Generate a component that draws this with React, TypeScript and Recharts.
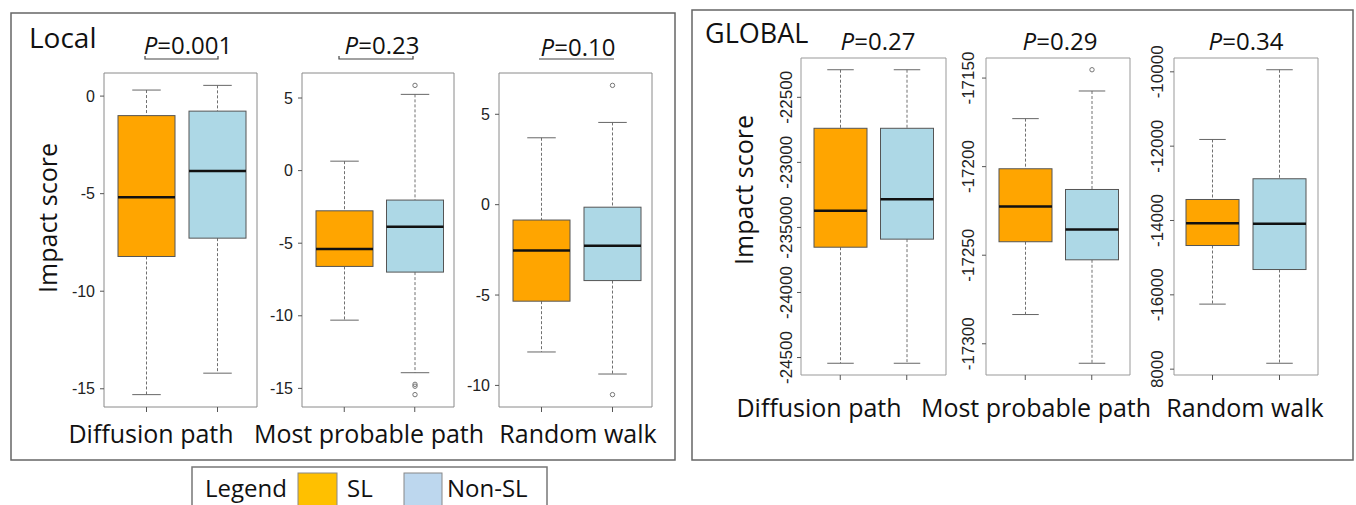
import React from 'react';
import { ComposedChart, Bar, XAxis, YAxis } from 'recharts';

const groups = ['SL', 'Non-SL'];
const boxFills = ['#FFA500', '#ADD8E6'];
const legendFills = ['#FFC000', '#BDD7EE'];

// each row: [min, q1, median, q3, max], first SL then Non-SL
const localDiffusion = [[-15.3, -8.22, -5.19, -1.0, 0.31], [-14.2, -7.28, -3.84, -0.77, 0.55]];
const localProbable = [[-10.3, -6.6, -5.4, -2.77, 0.65], [-13.92, -6.99, -3.87, -2.03, 5.25]];
const localWalk = [[-8.15, -5.34, -2.54, -0.85, 3.7], [-9.37, -4.2, -2.28, -0.14, 4.55]];
const globalDiffusion = [[-24544, -23652, -23371, -22738, -22288], [-24544, -23590, -23284, -22738, -22288]];
const globalProbable = [[-17283.5, -17242.4, -17222.5, -17201.2, -17172.9], [-17311, -17252.6, -17235.5, -17212.9, -17157.3]];
const globalWalk = [[-16250, -14673, -14073, -13435, -11820], [-17841, -15319, -14089, -12877, -9944]];

const localDiffusionOut = [[], []];
const localProbableOut = [[], [5.87, -14.72, -14.85, -15.43]];
const localWalkOut = [[], [6.6, -10.51]];
const globalDiffusionOut = [[], []];
const globalProbableOut = [[], [-17145.3]];
const globalWalkOut = [[], []];

const localDiffusionTicks = [-15, -10, -5, 0];
const localProbableTicks = [-15, -10, -5, 0, 5];
const localWalkTicks = [-10, -5, 0, 5];
const globalDiffusionTicks = [-24500, -24000, -23500, -23000, -22500];
const globalDiffusionTickLabels = ['-24500', '-24000', '-235000', '-23000', '-22500'];
const globalProbableTicks = [-17300, -17250, -17200, -17150];
const globalWalkTicks = [-18000, -16000, -14000, -12000, -10000];
const globalWalkTickLabels = ['8000', '-16000', '-14000', '-12000', '-10000'];

const methods = ['Diffusion path', 'Most probable path', 'Random walk'];
const localP = ['0.001', '0.23', '0.10'];
const globalP = ['0.27', '0.29', '0.34'];

const FONT = '"Open Sans", sans-serif';
const TICK_FONT = '"Liberation Sans", Arial, sans-serif';

const toRows = (stats: number[][], out: number[][]) =>
    groups.map((g, i) => ({
        name: g,
        box: [stats[i][1], stats[i][3]],
        min: stats[i][0],
        med: stats[i][2],
        max: stats[i][4],
        out: out[i],
        fill: boxFills[i],
    }));

const paddedDomain = (stats: number[][], out: number[][]): [number, number] => {
    const all = [...stats.flat(), ...out.flat()];
    const lo = Math.min(...all);
    const hi = Math.max(...all);
    const p = (hi - lo) * 0.04;
    return [lo - p, hi + p];
};

// box plot drawn from the range bar [q1, q3] the library positions for us
const BoxShape = (props: any) => {
    const {x, y, width, height, payload} = props;
    const [q1, q3] = payload.box;
    const top = Math.min(y, y + height);
    const bot = Math.max(y, y + height);
    const k = (bot - top) / (q3 - q1);
    const py = (v: number) => top + (q3 - v) * k;
    const cx = x + width / 2;
    const cap = width / 4;
    return (
        <g>
            <line x1={cx} x2={cx} y1={py(payload.max)} y2={top} stroke="#707070" strokeDasharray="3 2"/>
            <line x1={cx} x2={cx} y1={bot} y2={py(payload.min)} stroke="#707070" strokeDasharray="3 2"/>
            <line x1={cx - cap} x2={cx + cap} y1={py(payload.max)} y2={py(payload.max)} stroke="#666"/>
            <line x1={cx - cap} x2={cx + cap} y1={py(payload.min)} y2={py(payload.min)} stroke="#666"/>
            <rect x={x} y={top} width={width} height={bot - top} fill={payload.fill} stroke="#555"/>
            <line x1={x} x2={x + width} y1={py(payload.med)} y2={py(payload.med)} stroke="#111" strokeWidth={2.5}/>
            {payload.out.map((v: number, i: number) => (
                <circle key={i} cx={cx} cy={py(v)} r={2.2} fill="none" stroke="#777"/>
            ))}
        </g>
    );
};

const RotTick = (props: any) => {
    const {x, y, payload, ticks, labels, fs} = props;
    const i = ticks.indexOf(payload.value);
    const s = labels ? labels[i] : String(payload.value);
    const cx = x - 6;
    return (
        <text x={cx} y={y} transform={`rotate(-90 ${cx} ${y})`} textAnchor="middle" dominantBaseline="central"
              fill="#222" fontSize={fs} fontFamily={TICK_FONT}>{s}</text>
    );
};

const EmptyTick = () => <g/>;

interface PanelProps {
    stats: number[][];
    out: number[][];
    ticks: number[];
    labels?: string[];
    rotated?: boolean;
    rect: { x: number; y: number; w: number; h: number };
    boxW: number;
    pad: { left: number; right: number };
    gap: number;
}

const Panel: React.FC<PanelProps> = ({stats, out, ticks, labels, rotated, rect, boxW, pad, gap}) => {
    const rows = toRows(stats, out);
    const domain = paddedDomain(stats, out);
    const YW = 70, XH = 12, MT = 30;
    const frame = rotated ? '#999' : '#8a8a8a';
    return (
        <div style={{position: 'absolute', left: rect.x - YW, top: rect.y - MT - 1}}>
            <ComposedChart width={rect.w + YW + 2} height={rect.h + MT + 1 + XH} data={rows}
                           margin={{top: MT, right: 1, left: 0, bottom: 0}}>
                <XAxis dataKey="name" height={XH} padding={pad} tick={EmptyTick} tickSize={5}
                       axisLine={{stroke: frame}} tickLine={{stroke: '#555'}}/>
                <XAxis dataKey="name" xAxisId="t" orientation="top" height={1} padding={pad} tick={false}
                       tickLine={false} axisLine={{stroke: frame}}/>
                <YAxis type="number" domain={domain} ticks={ticks} allowDataOverflow width={YW}
                       tickSize={4} tickMargin={gap} axisLine={{stroke: frame}} tickLine={{stroke: '#555'}}
                       tick={rotated
                           ? (p: any) => <RotTick {...p} ticks={ticks} labels={labels} fs={17}/>
                           : {fill: '#222', fontSize: 16, fontFamily: TICK_FONT}}/>
                <YAxis yAxisId="r" orientation="right" type="number" domain={domain} width={1} tick={false}
                       tickLine={false} axisLine={{stroke: frame}}/>
                <Bar dataKey="box" barSize={boxW} shape={BoxShape} isAnimationActive={false}/>
            </ComposedChart>
        </div>
    );
};

const Bracket = ({x1, x2, y}: { x1: number; x2: number; y: number }) => (
    <path d={`M${x1},${y - 3} L${x1},${y} L${x2},${y} L${x2},${y - 3}`} fill="none" stroke="#444" strokeWidth={1.2}/>
);

const PText = ({x, y, v}: { x: number; y: number; v: string }) => (
    <text x={x} y={y} textAnchor="middle" fontSize={24} fontFamily={FONT} fill="#111">
        <tspan fontStyle="italic">P</tspan>={v}
    </text>
);

const App: React.FC = () => {
    return (
        <div style={{position: 'absolute', left: 0, top: 0, width: 1356, height: 505, background: '#fff', overflow: 'hidden'}}>
            <Panel stats={localDiffusion} out={localDiffusionOut} ticks={localDiffusionTicks}
                   rect={{x: 104, y: 73, w: 153, h: 334}} boxW={57} pad={{left: 7, right: 4}} gap={5}/>
            <Panel stats={localProbable} out={localProbableOut} ticks={localProbableTicks}
                   rect={{x: 302, y: 73, w: 152, h: 334}} boxW={57} pad={{left: 7, right: 4}} gap={5}/>
            <Panel stats={localWalk} out={localWalkOut} ticks={localWalkTicks}
                   rect={{x: 499, y: 73, w: 153, h: 334}} boxW={57} pad={{left: 7, right: 4}} gap={5}/>
            <Panel stats={globalDiffusion} out={globalDiffusionOut} ticks={globalDiffusionTicks}
                   labels={globalDiffusionTickLabels} rotated
                   rect={{x: 801, y: 58, w: 145, h: 317}} boxW={53} pad={{left: 6, right: 6}} gap={4}/>
            <Panel stats={globalProbable} out={globalProbableOut} ticks={globalProbableTicks} rotated
                   rect={{x: 986, y: 58, w: 144, h: 317}} boxW={53} pad={{left: 6, right: 5}} gap={7}/>
            <Panel stats={globalWalk} out={globalWalkOut} ticks={globalWalkTicks}
                   labels={globalWalkTickLabels} rotated
                   rect={{x: 1174, y: 58, w: 144, h: 317}} boxW={53} pad={{left: 5, right: 5}} gap={6}/>

            <svg width={1356} height={505} style={{position: 'absolute', left: 0, top: 0, pointerEvents: 'none'}}>
                <rect x={11} y={13} width={664} height={447} fill="none" stroke="#666" strokeWidth={1.5}/>
                <rect x={692} y={10} width={661} height={450} fill="none" stroke="#666" strokeWidth={1.5}/>

                <text x={29} y={48} fontSize={28} fontFamily={FONT} fill="#111">Local</text>
                <text x={705} y={43} fontSize={27} fontFamily={FONT} fill="#111">GLOBAL</text>

                <PText x={188} y={54} v={localP[0]}/>
                <Bracket x1={145} x2={218} y={59}/>
                <PText x={382} y={54} v={localP[1]}/>
                <Bracket x1={339} x2={413} y={59}/>
                <PText x={578} y={56} v={localP[2]}/>
                <line x1={539} x2={614} y1={59} y2={59} stroke="#444" strokeWidth={1.2}/>

                <PText x={878} y={50} v={globalP[0]}/>
                <PText x={1060} y={50} v={globalP[1]}/>
                <PText x={1246} y={50} v={globalP[2]}/>

                <text x={47} y={218} transform="rotate(-90 47 218)" textAnchor="middle" dominantBaseline="central"
                      fontSize={25} fontFamily={FONT} fill="#111">Impact score</text>
                <text x={743} y={190} transform="rotate(-90 743 190)" textAnchor="middle" dominantBaseline="central"
                      fontSize={25} fontFamily={FONT} fill="#111">Impact score</text>

                {[151, 369, 578].map((cx, i) => (
                    <text key={'l' + i} x={cx} y={443} textAnchor="middle" fontSize={25} fontFamily={FONT}
                          fill="#111">{methods[i]}</text>
                ))}
                {[819, 1036, 1245].map((cx, i) => (
                    <text key={'g' + i} x={cx} y={417} textAnchor="middle" fontSize={25} fontFamily={FONT}
                          fill="#111">{methods[i]}</text>
                ))}

                <rect x={192} y={467} width={355} height={60} fill="#fff" stroke="#777" strokeWidth={1.5}/>
                <text x={205} y={497} fontSize={24} fontFamily={FONT} fill="#111">Legend</text>
                <rect x={298} y={473} width={39} height={40} fill={legendFills[0]} stroke="#888"/>
                <text x={347} y={497} fontSize={24} fontFamily={FONT} fill="#111">{groups[0]}</text>
                <rect x={404} y={473} width={38} height={40} fill={legendFills[1]} stroke="#888"/>
                <text x={447} y={497} fontSize={24} fontFamily={FONT} fill="#111">{groups[1]}</text>
            </svg>
        </div>
    );
};

export default App;
